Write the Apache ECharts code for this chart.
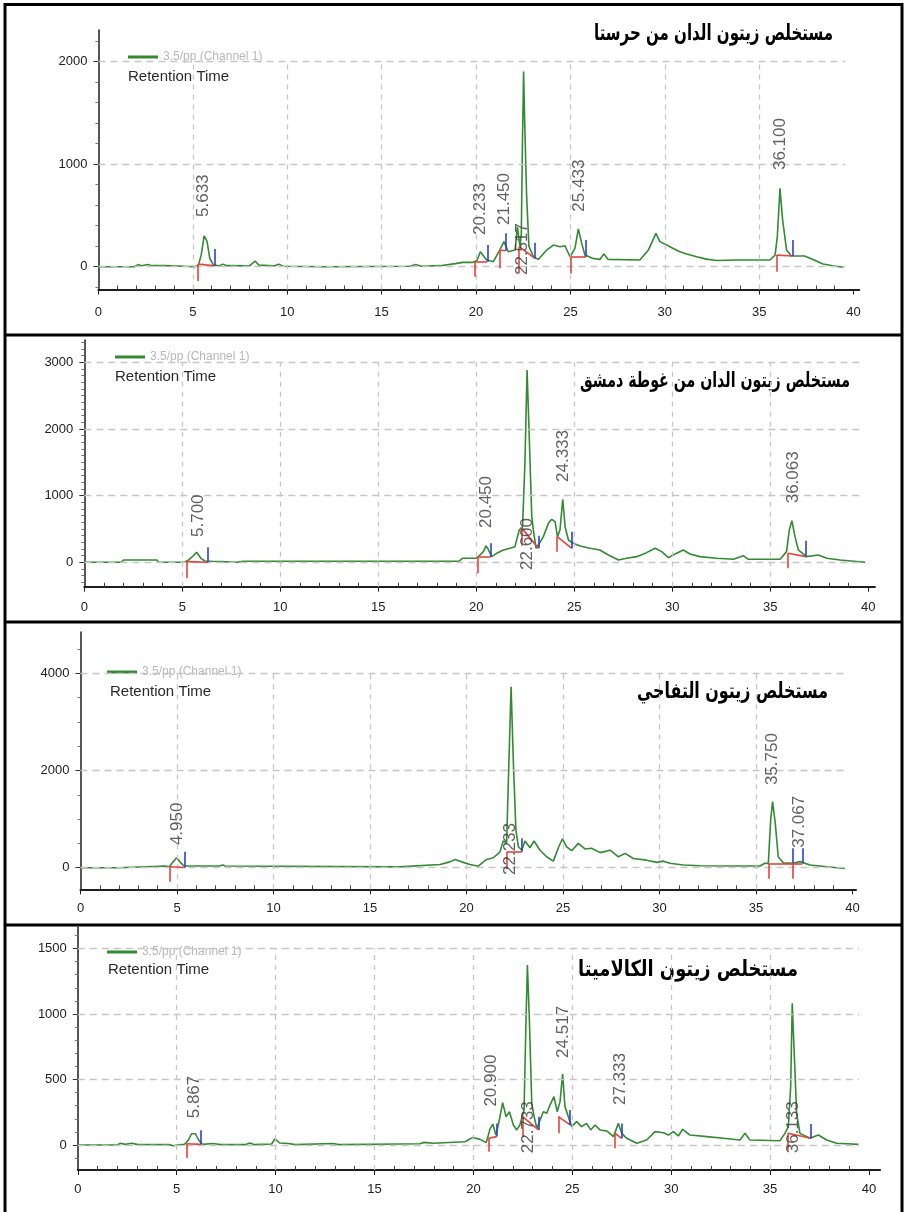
<!DOCTYPE html>
<html><head><meta charset="utf-8">
<script src="https://cdn.jsdelivr.net/npm/echarts@6/dist/echarts.min.js"></script>
<style>html,body{margin:0;padding:0;background:#fff}#c{width:904px;height:1212px}</style>
</head><body><div id="c"></div><script>
// ---------------- data ----------------
const xTicks = [0, 5, 10, 15, 20, 25, 30, 35, 40];
const legendName = '3.5/pp (Channel 1)';
const axisTitle = 'Retention Time';

// Panel 1
const p1Title = 'مستخلص زيتون الدان من حرستا';
const p1YTicks = [0, 1000, 2000];
const p1Trace = [[0,0],[1.9,0],[2.1,20],[2.3,10],[2.6,22],[2.8,12],[3.5,10],[4.5,5],[5.1,0],[5.3,15],[5.45,120],[5.6,300],[5.75,250],[5.9,80],[6.1,15],[6.4,10],[6.6,25],[6.8,10],[8.0,8],[8.3,55],[8.5,15],[9.3,8],[9.55,25],[9.8,5],[12,0],[16.5,5],[16.8,22],[17.1,5],[18.1,10],[18.9,30],[19.3,42],[19.8,42],[20.05,60],[20.23,146],[20.56,65],[20.92,49],[21.24,156],[21.48,244],[21.71,146],[22.07,162],[22.19,390],[22.33,195],[22.4,320],[22.46,1200],[22.52,1900],[22.58,1400],[22.68,700],[22.8,200],[23.04,97],[23.3,71],[23.74,162],[24.1,211],[24.45,195],[24.71,204],[24.98,97],[25.24,178],[25.42,367],[25.6,227],[25.77,113],[26.2,80],[26.56,71],[26.77,123],[27.0,71],[28.68,65],[29.13,162],[29.53,325],[29.74,244],[30.1,211],[30.45,178],[30.8,146],[31.16,123],[31.69,97],[32.2,74],[32.75,61],[33.8,65],[35.57,65],[35.84,113],[35.96,292],[36.1,763],[36.24,455],[36.45,162],[36.7,104],[37.4,104],[37.85,71],[38.38,26],[38.9,10],[39.45,-6]];
const p1Starts = [[5.27,-140,25],[19.95,-98,49],[21.24,-16,162],[22.29,-65,195],[25.01,-65,97],[35.92,-49,113]];
const p1Ends = [[6.18,10,172],[20.6,49,211],[21.57,156,325],[23.12,80,233],[25.83,97,260],[36.8,104,260]];
const p1Peaks = [[5.54,484,'5.633'],[20.25,309,'20.233'],[21.48,406,'21.450'],[22.47,-81,'22.517'],[25.47,536,'25.433'],[36.1,941,'36.100']];

// Panel 2
const p2Title = 'مستخلص زيتون الدان من غوطة دمشق';
const p2YTicks = [0, 1000, 2000, 3000];
const p2Trace = [[0,0],[1.9,0],[2.0,35],[3.7,35],[3.8,0],[5.1,0],[5.3,30],[5.5,80],[5.73,150],[5.95,60],[6.15,20],[6.5,15],[7.0,10],[7.8,0],[8.1,15],[19.1,15],[19.3,60],[20.02,60],[20.36,160],[20.5,245],[20.6,200],[20.78,85],[21.04,135],[21.38,185],[21.72,210],[21.97,235],[22.19,485],[22.36,535],[22.48,1485],[22.59,2885],[22.69,1985],[22.83,685],[22.91,485],[23.05,210],[23.22,285],[23.42,385],[23.68,585],[23.85,645],[24.02,610],[24.14,385],[24.27,485],[24.41,945],[24.53,535],[24.7,335],[24.95,285],[25.29,245],[25.8,210],[26.3,185],[26.74,110],[27.25,35],[27.67,60],[28.18,85],[28.69,145],[29.12,210],[29.46,160],[29.8,70],[30.14,125],[30.56,185],[30.9,125],[31.41,85],[32.27,60],[33.12,45],[33.62,100],[33.88,45],[35.5,45],[35.83,160],[35.97,485],[36.1,625],[36.26,385],[36.43,185],[36.85,85],[37.45,110],[37.88,60],[38.56,35],[39.84,0]];
const p2Starts = [[5.22,-240,10],[20.05,-165,85],[22.3,250,520],[24.13,160,385],[35.9,-90,135]];
const p2Ends = [[6.31,0,225],[20.73,85,285],[23.17,210,400],[24.87,210,460],[36.83,85,325]];
const p2Peaks = [[5.8,380,'5.700'],[20.5,515,'20.450'],[22.6,-115,'22.600'],[24.42,1205,'24.333'],[36.16,885,'36.063']];

// Panel 3
const p3Title = 'مستخلص زيتون التفاحي';
const p3YTicks = [0, 2000, 4000];
const p3Trace = [[0,0],[2.0,0],[2.05,35],[4.4,35],[4.6,20],[4.8,120],[4.98,205],[5.15,120],[5.35,40],[5.5,35],[7.2,35],[7.37,55],[7.5,35],[16.5,16],[18.63,65],[19.14,120],[19.4,170],[19.75,120],[20.18,65],[20.61,30],[21.04,170],[21.39,205],[21.73,320],[21.9,550],[22.08,515],[22.17,1800],[22.31,3725],[22.43,2145],[22.56,775],[22.69,430],[22.86,360],[23.03,550],[23.29,410],[23.5,550],[23.81,360],[24.15,225],[24.5,135],[24.76,410],[24.97,595],[25.19,430],[25.45,350],[25.79,500],[26.14,385],[26.48,400],[26.92,310],[27.44,360],[27.87,225],[28.22,295],[28.64,190],[29.33,155],[29.85,110],[30.2,135],[30.54,90],[31.23,55],[32.1,40],[33.83,35],[35.2,35],[35.46,90],[35.64,90],[35.76,980],[35.86,1360],[36.0,910],[36.15,225],[36.41,100],[36.93,90],[37.28,125],[37.8,55],[38.66,20],[39.6,-15]];
const p3Starts = [[4.64,-290,20],[22.1,-30,330],[35.68,-225,90],[36.93,-225,90]];
const p3Ends = [[5.42,5,330],[22.86,330,605],[36.93,90,400],[37.41,90,400]];
const p3Peaks = [[5.0,465,'4.950'],[22.25,-150,'22.233'],[35.86,1700,'35.750'],[37.24,410,'37.067']];

// Panel 4
const p4Title = 'مستخلص زيتون الكالاميتا';
const p4YTicks = [0, 500, 1000, 1500];
const p4Trace = [[0,0],[2.0,0],[2.13,13],[2.4,5],[2.73,13],[3.0,5],[4.6,3],[4.83,-6],[5.1,2],[5.4,5],[5.6,40],[5.75,86],[5.95,86],[6.1,40],[6.3,5],[6.85,12],[7.2,3],[8.5,3],[8.7,15],[8.9,3],[9.8,8],[9.97,48],[10.2,15],[10.64,12],[11,3],[12.9,12],[13.2,3],[16.29,8],[17.3,10],[17.5,20],[17.97,13],[19.58,25],[19.97,58],[20.34,43],[20.65,18],[20.85,127],[20.98,160],[21.14,76],[21.31,191],[21.48,323],[21.65,216],[21.82,254],[22.02,153],[22.19,115],[22.35,153],[22.56,267],[22.66,954],[22.73,1374],[22.83,954],[22.95,318],[23.07,216],[23.21,127],[23.37,191],[23.54,254],[23.71,242],[23.87,305],[24.07,369],[24.24,254],[24.38,331],[24.51,542],[24.63,293],[24.8,216],[24.97,140],[25.22,178],[25.47,140],[25.72,165],[25.93,115],[26.15,153],[26.4,115],[26.74,107],[27.08,64],[27.33,165],[27.5,89],[27.75,51],[28.26,13],[28.76,38],[29.18,102],[29.61,94],[29.86,76],[30.11,102],[30.36,69],[30.58,120],[30.95,76],[31.8,64],[32.64,51],[33.48,38],[33.73,89],[33.98,38],[35.5,33],[35.75,89],[35.92,140],[36.04,445],[36.12,1081],[36.22,700],[36.34,242],[36.51,89],[37.01,51],[37.44,76],[37.86,38],[38.37,13],[39.46,5]];
const p4Starts = [[5.5,-100,10],[20.76,-51,51],[22.49,64,216],[24.29,89,216],[27.16,-25,89],[35.9,-40,89]];
const p4Ends = [[6.23,5,112],[21.18,64,165],[23.29,115,216],[24.89,153,267],[27.5,51,165],[37.07,51,160]];
const p4Peaks = [[5.87,204,'5.867'],[20.92,293,'20.900'],[22.76,-63,'22.733'],[24.53,665,'24.517'],[27.41,305,'27.333'],[36.16,-63,'36.133']];

// ---------------- layout / style ----------------
const panels = [
  {title:p1Title, yTicks:p1YTicks, trace:p1Trace, starts:p1Starts, ends:p1Ends, peaks:p1Peaks},
  {title:p2Title, yTicks:p2YTicks, trace:p2Trace, starts:p2Starts, ends:p2Ends, peaks:p2Peaks},
  {title:p3Title, yTicks:p3YTicks, trace:p3Trace, starts:p3Starts, ends:p3Ends, peaks:p3Peaks},
  {title:p4Title, yTicks:p4YTicks, trace:p4Trace, starts:p4Starts, ends:p4Ends, peaks:p4Peaks}
];
const layouts = [
  {x0:98.4, pxX:18.88, xMax:40.3,  y0:266.7, pxY:0.1027,  top:30,  axisY:289.5, minorY:200, gridEnd:39.55, xMargin:16, title:{r:833,y:34,w:239,fs:22},  legend:{x:128,y:58},  rt:{x:128,y:77}},
  {x0:84.3, pxX:19.6,  xMax:40.34, y0:562.3, pxY:0.06667, top:340, axisY:586.7, minorY:100, gridEnd:39.6,  xMargin:14, title:{r:850,y:382,w:270,fs:21}, legend:{x:115,y:358}, rt:{x:115,y:377}},
  {x0:80.5, pxX:19.3,  xMax:40.18, y0:867.7, pxY:0.0486,  top:632, axisY:889.3, minorY:500, gridEnd:39.6,  xMargin:13, title:{r:828,y:692,w:191,fs:22}, legend:{x:107,y:673}, rt:{x:110,y:692}},
  {x0:77.8, pxX:19.78, xMax:40.56, y0:1145,  pxY:0.131,   top:927, axisY:1170,  minorY:100, gridEnd:39.5,  xMargin:13, title:{r:798,y:970,w:220,fs:22}, legend:{x:107,y:953}, rt:{x:108,y:970}}
];
const FONT = "'Liberation Sans', Arial, sans-serif";
const AR_FONT = "'DejaVu Sans', sans-serif";
const GREEN = '#338a33', RED = '#e6433b', BLUE = '#2b3fd6', GRID = '#c6c6c6';
const separators = [335, 622, 925];

const mctx = document.createElement('canvas').getContext('2d');
function textWidth(text, font) { mctx.font = font; return mctx.measureText(text).width; }

const grids = [], xAxes = [], yAxes = [], series = [], legends = [], graphics = [];
panels.forEach((p, i) => {
  const L = layouts[i];
  const yMin = -(L.axisY - L.y0) / L.pxY, yMax = (L.y0 - L.top) / L.pxY;
  grids.push({left: L.x0, top: L.top, width: L.xMax * L.pxX, height: L.axisY - L.top});
  const xMinor = [];
  for (let v = 1; v < 40; v++) if (v % 5) xMinor.push(v);
  const yMinor = [];
  for (let v = Math.ceil(yMin / L.minorY) * L.minorY; v <= yMax; v += L.minorY) if (p.yTicks.indexOf(v) < 0) yMinor.push(v);

  xAxes.push({type:'value', gridIndex:i, min:0, max:L.xMax, position:'bottom',
    axisLine:{onZero:false, lineStyle:{color:'#1e1e1e', width:2}},
    axisTick:{customValues:xTicks, length:5, lineStyle:{color:'#1e1e1e', width:1}},
    axisLabel:{customValues:xTicks, fontSize:13, color:'#222', margin:L.xMargin, fontFamily:FONT, formatter: v => String(v)},
    splitLine:{show:false}});
  xAxes.push({type:'value', gridIndex:i, min:0, max:L.xMax, position:'bottom',
    axisLine:{show:false, onZero:false},
    axisTick:{customValues:xMinor, inside:true, length:4, lineStyle:{color:'#444', width:1}},
    axisLabel:{show:false}, splitLine:{show:false}});
  yAxes.push({type:'value', gridIndex:i, min:yMin, max:yMax, position:'left',
    axisLine:{show:true, onZero:false, lineStyle:{color:'#1e1e1e', width:1.5}},
    axisTick:{show:true, customValues:p.yTicks, length:5, lineStyle:{color:'#333'}},
    axisLabel:{customValues:p.yTicks, fontSize:13, color:'#222', margin:11, fontFamily:FONT, formatter: v => String(v)},
    splitLine:{show:false}});
  yAxes.push({type:'value', gridIndex:i, min:yMin, max:yMax, position:'left',
    axisLine:{show:false, onZero:false},
    axisTick:{show:true, customValues:yMinor, length:3, lineStyle:{color:'#777'}},
    axisLabel:{show:false}, splitLine:{show:false}});

  const xi = 2 * i, yi = 2 * i;
  // dashed grid lines
  const topTick = p.yTicks[p.yTicks.length - 1];
  const gridSegs = [];
  xTicks.forEach(v => { if (v > 0 && v < 40) gridSegs.push([{coord:[v, yMin], lineStyle:{type:[5,5]}}, {coord:[v, topTick]}]); });
  p.yTicks.forEach(v => gridSegs.push([{coord:[0, v], lineStyle:{type:[7,5]}}, {coord:[L.gridEnd, v]}]));
  series.push({type:'line', name:'grid'+i, xAxisIndex:xi, yAxisIndex:yi, data:p.trace, symbol:'none', silent:true,
    lineStyle:{opacity:0, width:0}, z:1,
    markLine:{silent:true, symbol:['none','none'], label:{show:false}, animation:false,
      lineStyle:{color:GRID, width:1.3}, emphasis:{disabled:true}, data:gridSegs}});
  // trace
  series.push({type:'line', name:legendName, xAxisIndex:xi, yAxisIndex:yi, data:p.trace, symbol:'none', showSymbol:false,
    lineStyle:{color:GREEN, width:1.6}, itemStyle:{color:GREEN}, z:3, silent:true});
  // peak start/end marks and baselines
  const marks = [];
  p.starts.forEach((s, k) => {
    marks.push([{coord:[s[0], s[1]], lineStyle:{color:RED}}, {coord:[s[0], s[2]]}]);
    const e = p.ends[k];
    if (e) marks.push([{coord:[s[0], s[2]], lineStyle:{color:RED}}, {coord:[e[0], e[1]]}]);
  });
  p.ends.forEach(e => marks.push([{coord:[e[0], e[1]], lineStyle:{color:BLUE}}, {coord:[e[0], e[2]]}]));
  series.push({type:'line', name:'marks'+i, xAxisIndex:xi, yAxisIndex:yi, data:p.trace, symbol:'none', silent:true,
    lineStyle:{opacity:0, width:0}, z:4,
    markLine:{silent:true, symbol:['none','none'], label:{show:false}, animation:false,
      lineStyle:{type:'solid', width:1.6}, emphasis:{disabled:true}, data:marks}});
  // rotated retention-time labels
  series.push({type:'scatter', name:'peaks'+i, xAxisIndex:xi, yAxisIndex:yi, data:p.peaks, symbolSize:1,
    itemStyle:{color:'rgba(0,0,0,0)'}, z:5, silent:true,
    label:{show:true, position:'inside', rotate:90, align:'left', verticalAlign:'middle',
      fontSize:17, color:'#3a3a3a', fontFamily:FONT, formatter: q => q.value[2]}});

  legends.push({data:[legendName], left:L.legend.x, top:L.legend.y - 7, padding:0, itemWidth:30, itemHeight:3,
    icon:'rect', itemGap:6, selectedMode:false, textStyle:{color:'#b8b8b8', fontSize:12, fontFamily:FONT}});

  const tFont = 'bold ' + L.title.fs + 'px ' + AR_FONT;
  const sx = L.title.w / textWidth(p.title, tFont);
  graphics.push({type:'text', x:L.title.r, y:L.title.y, scaleX:sx, scaleY:1, silent:true,
    style:{text:p.title, font:tFont, fill:'#000', align:'right', verticalAlign:'middle'}});
  graphics.push({type:'text', x:L.rt.x, y:L.rt.y, silent:true,
    style:{text:axisTitle, font:'15px ' + FONT, fill:'#2a2a2a', align:'left', verticalAlign:'middle'}});
});

// frame
const B = {stroke:'#000', lineWidth:3};
graphics.push({type:'line', silent:true, shape:{x1:5, y1:3, x2:5, y2:1212}, style:B});
graphics.push({type:'line', silent:true, shape:{x1:902, y1:3, x2:902, y2:1212}, style:B});
graphics.push({type:'line', silent:true, shape:{x1:4, y1:4.5, x2:903, y2:4.5}, style:B});
separators.forEach(y => graphics.push({type:'line', silent:true, shape:{x1:4, y1:y, x2:903, y2:y}, style:B}));

const chart = echarts.init(document.getElementById('c'), null, {renderer:'canvas', width:904, height:1212});
chart.setOption({
  animation:false, backgroundColor:'#fff',
  grid:grids, xAxis:xAxes, yAxis:yAxes, legend:legends, series:series, graphic:graphics
});
</script></body></html>
